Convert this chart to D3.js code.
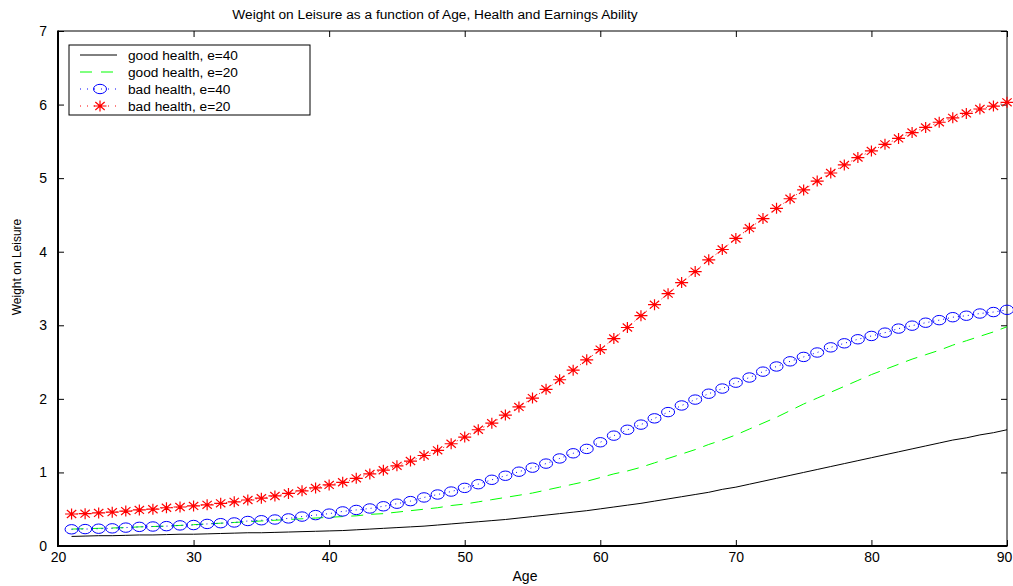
<!DOCTYPE html>
<html>
<head>
<meta charset="utf-8">
<script src="https://cdn.jsdelivr.net/npm/d3@7"></script>
<style>
  body { margin: 0; background: #fff; }
  text { font-family: "Liberation Sans", Arial, sans-serif; fill: #000; }
</style>
</head>
<body>
<svg id="chart" width="1013" height="586"></svg>
<script>
// x values: age in years
const ages = [21, 22, 23, 24, 25, 26, 27, 28, 29, 30, 31, 32, 33, 34, 35, 36, 37, 38, 39, 40,
  41, 42, 43, 44, 45, 46, 47, 48, 49, 50, 51, 52, 53, 54, 55, 56, 57, 58, 59, 60,
  61, 62, 63, 64, 65, 66, 67, 68, 69, 70, 71, 72, 73, 74, 75, 76, 77, 78, 79, 80,
  81, 82, 83, 84, 85, 86, 87, 88, 89, 90];

// weight on leisure
const goodE40 = [0.13, 0.135, 0.14, 0.14, 0.145, 0.15, 0.15, 0.155, 0.16, 0.16,
  0.165, 0.17, 0.175, 0.18, 0.18, 0.185, 0.19, 0.195, 0.20, 0.205,
  0.21, 0.22, 0.23, 0.24, 0.25, 0.26, 0.27, 0.285, 0.30, 0.315,
  0.33, 0.345, 0.36, 0.38, 0.40, 0.42, 0.44, 0.46, 0.48, 0.505,
  0.53, 0.555, 0.58, 0.61, 0.64, 0.67, 0.70, 0.73, 0.77, 0.80,
  0.84, 0.88, 0.92, 0.96, 1.00, 1.04, 1.08, 1.12, 1.16, 1.20,
  1.24, 1.28, 1.32, 1.36, 1.40, 1.44, 1.47, 1.51, 1.54, 1.58];

const goodE20 = [0.23, 0.235, 0.24, 0.245, 0.25, 0.26, 0.265, 0.27, 0.28, 0.29,
  0.30, 0.31, 0.32, 0.33, 0.34, 0.35, 0.36, 0.37, 0.38, 0.39,
  0.40, 0.41, 0.43, 0.44, 0.46, 0.48, 0.50, 0.52, 0.55, 0.57,
  0.60, 0.63, 0.66, 0.69, 0.72, 0.76, 0.80, 0.84, 0.88, 0.93,
  0.98, 1.02, 1.07, 1.13, 1.19, 1.25, 1.31, 1.38, 1.44, 1.51,
  1.59, 1.67, 1.75, 1.84, 1.93, 2.01, 2.09, 2.17, 2.25, 2.33,
  2.40, 2.47, 2.54, 2.60, 2.66, 2.73, 2.79, 2.85, 2.91, 2.98];

const badE40 = [0.227, 0.23, 0.235, 0.24, 0.25, 0.26, 0.265, 0.27, 0.28, 0.285,
  0.30, 0.31, 0.32, 0.34, 0.35, 0.36, 0.375, 0.40, 0.42, 0.44,
  0.47, 0.49, 0.51, 0.54, 0.575, 0.61, 0.66, 0.70, 0.74, 0.79,
  0.84, 0.90, 0.955, 1.01, 1.065, 1.12, 1.19, 1.26, 1.32, 1.41,
  1.50, 1.58, 1.65, 1.735, 1.82, 1.91, 1.99, 2.07, 2.14, 2.22,
  2.29, 2.37, 2.44, 2.51, 2.57, 2.63, 2.70, 2.755, 2.81, 2.855,
  2.90, 2.955, 2.995, 3.035, 3.07, 3.11, 3.13, 3.16, 3.18, 3.21];

const badE20 = [0.435, 0.44, 0.45, 0.46, 0.475, 0.49, 0.50, 0.52, 0.53, 0.545,
  0.56, 0.58, 0.60, 0.625, 0.65, 0.68, 0.715, 0.75, 0.79, 0.83,
  0.866, 0.92, 0.98, 1.03, 1.09, 1.155, 1.23, 1.30, 1.39, 1.48,
  1.58, 1.67, 1.78, 1.89, 2.01, 2.13, 2.26, 2.39, 2.53, 2.67,
  2.82, 2.97, 3.13, 3.28, 3.43, 3.58, 3.73, 3.89, 4.03, 4.18,
  4.32, 4.45, 4.59, 4.72, 4.84, 4.96, 5.07, 5.18, 5.28, 5.37,
  5.46, 5.54, 5.62, 5.69, 5.76, 5.82, 5.88, 5.94, 5.98, 6.03];

const seriesNames = ["good health, e=40", "good health, e=20", "bad health, e=40", "bad health, e=20"];
const xTicks = [20, 30, 40, 50, 60, 70, 80, 90];
const yTicks = [0, 1, 2, 3, 4, 5, 6, 7];

const svg = d3.select("#chart");
const m = { left: 58, right: 1007, top: 31, bottom: 546 };

const x = d3.scaleLinear().domain([20, 90]).range([m.left, m.right]);
const y = d3.scaleLinear().domain([0, 7]).range([m.bottom, m.top]);

// Series styles
const styles = [
  { values: goodE40, color: "#000", dash: null, marker: null },
  { values: goodE20, color: "#00ff00", dash: "12,8", marker: null },
  { values: badE40, color: "#0000ff", dash: "1,4", marker: "circle" },
  { values: badE20, color: "#ff0000", dash: "1,4", marker: "star" }
];

// Axes (ticks pointing inward)
const fontSize = 14;
svg.append("g")
  .attr("transform", `translate(0,${m.bottom})`)
  .call(d3.axisBottom(x).tickValues(xTicks).tickSize(-6).tickPadding(6))
  .call(g => g.select(".domain").remove())
  .call(g => g.selectAll("text").attr("font-size", fontSize).attr("font-family", "Liberation Sans, Arial")
    .attr("dx", d => d === 90 ? -3 : 0));

svg.append("g")
  .attr("transform", `translate(0,${m.top})`)
  .call(d3.axisTop(x).tickValues(xTicks).tickSize(-6).tickFormat(""))
  .call(g => g.select(".domain").remove());

svg.append("g")
  .attr("transform", `translate(${m.left},0)`)
  .call(d3.axisLeft(y).tickValues(yTicks).tickSize(-6).tickPadding(11).tickFormat(d3.format("d")))
  .call(g => g.select(".domain").remove())
  .call(g => g.selectAll("text").attr("font-size", fontSize).attr("font-family", "Liberation Sans, Arial"));

svg.append("g")
  .attr("transform", `translate(${m.right},0)`)
  .call(d3.axisRight(y).tickValues(yTicks).tickSize(-6).tickFormat(""))
  .call(g => g.select(".domain").remove());

svg.selectAll(".tick line").attr("stroke", "#000");

// Frame
svg.append("line").attr("x1", m.left).attr("x2", m.right).attr("y1", m.top).attr("y2", m.top)
  .attr("stroke", "#000").attr("stroke-width", 1);
svg.append("line").attr("x1", m.right).attr("x2", m.right).attr("y1", m.top).attr("y2", m.bottom)
  .attr("stroke", "#000").attr("stroke-width", 1);
svg.append("line").attr("x1", m.left).attr("x2", m.right + 0.5).attr("y1", m.bottom).attr("y2", m.bottom)
  .attr("stroke", "#000").attr("stroke-width", 2);
svg.append("line").attr("x1", m.left).attr("x2", m.left).attr("y1", m.top - 0.5).attr("y2", m.bottom + 1)
  .attr("stroke", "#000").attr("stroke-width", 2);

// Markers
function drawMarker(g, type, color, cx, cy) {
  if (type === "circle") {
    g.append("ellipse").attr("cx", cx).attr("cy", cy).attr("rx", 6.5).attr("ry", 4.7)
      .attr("fill", "none").attr("stroke", color).attr("stroke-width", 1);
  } else if (type === "star") {
    const rx = 6.5, ry = 5.5;
    const p = `M${cx - rx},${cy}L${cx + rx},${cy}M${cx},${cy - ry}L${cx},${cy + ry}` +
      `M${cx - rx * 0.72},${cy - ry * 0.72}L${cx + rx * 0.72},${cy + ry * 0.72}` +
      `M${cx - rx * 0.72},${cy + ry * 0.72}L${cx + rx * 0.72},${cy - ry * 0.72}`;
    g.append("path").attr("d", p).attr("stroke", color).attr("stroke-width", 1.2).attr("fill", "none");
  }
}

const plot = svg.append("g");
const line = d3.line().x((d, i) => x(ages[i])).y(d => y(d));

styles.forEach(s => {
  plot.append("path")
    .datum(s.values)
    .attr("d", line)
    .attr("fill", "none")
    .attr("stroke", s.color)
    .attr("stroke-width", 1)
    .attr("stroke-dasharray", s.dash);
  if (s.marker) {
    s.values.forEach((v, i) => drawMarker(plot, s.marker, s.color, x(ages[i]), y(v)));
  }
});

// Legend
const legend = svg.append("g");
legend.append("rect").attr("x", 69).attr("y", 45).attr("width", 241).attr("height", 70)
  .attr("fill", "#fff").attr("stroke", "#000").attr("stroke-width", 1);
const rowY = [55, 72, 89, 106];
styles.forEach((s, i) => {
  legend.append("line").attr("x1", 80).attr("x2", 117).attr("y1", rowY[i]).attr("y2", rowY[i])
    .attr("stroke", s.color).attr("stroke-width", 1).attr("stroke-dasharray", s.dash ? (s.marker ? "1,6" : "12,9") : null);
  if (s.marker) drawMarker(legend, s.marker, s.color, 100, rowY[i]);
  legend.append("text").attr("x", 128).attr("y", rowY[i]).attr("dy", "0.35em")
    .attr("font-size", 13.7).text(seriesNames[i]);
});

// Titles
svg.append("text").attr("x", 435).attr("y", 19).attr("text-anchor", "middle")
  .attr("font-size", 13.7).text("Weight on Leisure as a function of Age, Health and Earnings Ability");
svg.append("text").attr("x", 525).attr("y", 581).attr("text-anchor", "middle")
  .attr("font-size", 14).text("Age");
svg.append("text").attr("transform", "translate(21,267) rotate(-90)").attr("text-anchor", "middle")
  .attr("font-size", 12).text("Weight on Leisure");
</script>
</body>
</html>
